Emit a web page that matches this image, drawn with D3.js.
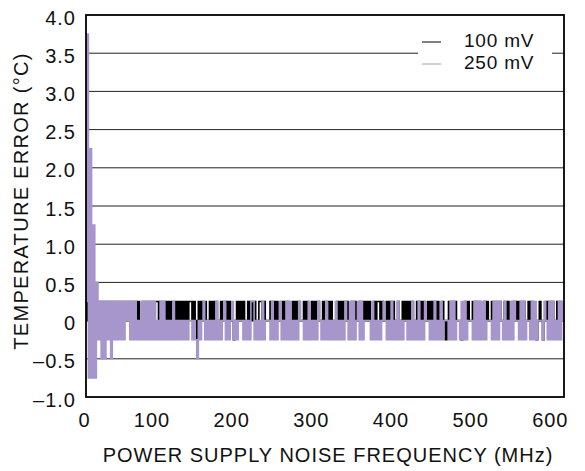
<!DOCTYPE html>
<html>
<head>
<meta charset="utf-8">
<script src="https://cdn.jsdelivr.net/npm/d3@7"></script>
<style>
  body { margin: 0; background: #fff; }
  text { font-family: "Liberation Sans", Arial, Helvetica, sans-serif; fill: #111; }
</style>
</head>
<body>
<div id="vis"></div>
<script>
// tick labels
const yTicks = [-1, -0.5, 0, 0.5, 1, 1.5, 2, 2.5, 3, 3.5, 4];
const xTicks = [0, 100, 200, 300, 400, 500, 600];
const seriesNames = ["100 mV", "250 mV"];

// sampled every 2 MHz, 0..600
const err100mV = [
  0.25,0,0.25,0,0.25,0,0.25,0,0.25,0,
  0.25,0,0.25,0,0.25,0,0.25,0,0.25,0,
  0.25,0,0.25,0.25,0,0.25,0,0.25,0,0.25,
  0,0.25,0,0.25,0,0,0.25,0,0.25,0,
  0.25,0,0.25,0,0.25,0.25,0,0.25,0,0.25,
  0,0.25,0,0.25,0,0.25,0,0.25,0,0.25,
  0,0.25,0,0.25,0,0.25,0.25,0,0.25,0,
  -0.25,0.25,0,0.25,0,0.25,0,0,0.25,0,
  0.25,0,0.25,0,0,0.25,0,0.25,0.25,0,
  0.25,0,0,-0.25,0,0.25,0,0.25,0,0.25,
  0,0,0.25,0,0.25,0,0.25,0,0,0.25,
  0.25,0,0.25,0,0,0,0.25,0,0.25,0,
  0.25,0,0,0.25,0,0.25,0,0.25,0,0,
  0.25,0,0.25,0,0.25,0,0,0.25,0,0.25,
  0,0,0.25,0,0.25,0,0.25,0,0,0.25,
  0,0.25,0.25,0,0.25,0,0,0,0.25,0,
  0.25,0,0.25,0,0.25,0,0,0.25,0,0.25,
  0,0,0.25,0,0.25,0,0.25,0,0.25,0,
  0,0.25,0,0.25,0.25,0,0.25,0,0,0.25,
  0,0.25,0,0.25,0,0,0.25,0,0,0.25,
  0,0.25,0,0.25,0,0.25,0,0,0.25,0,
  0.25,0,0.25,0,0,0.25,0,0.25,0,0.25,
  0,0.25,0,0,0.25,0,-0.25,0,0.25,0,
  0.25,0,0.25,0,0,0,-0.25,0,0.25,0,
  0.25,0,0,0.25,0,0.25,0,0.25,0,0,
  0.25,0,0.25,0,0,0.25,0,0.25,0.25,0,
  0.25,0,0,0.25,0,0.25,0,0,0.25,0,
  0.25,0,0.25,0,0.25,0.25,0,0,0.25,0,
  0.25,0,0,-0.25,0,0.25,0,-0.25,0,0.25,
  0,0.25,0,0.25,0,0,0.25,0,0.25,0,
  0
];

const err250mV = [
  0.25,3.75,-0.75,2.25,-0.75,1.25,-0.75,0.5,-0.25,0.25,
  -0.5,0.25,-0.5,0.25,-0.25,0.25,-0.5,0.25,-0.25,0.25,
  -0.25,0.25,-0.25,0.25,-0.25,0.25,0,0.25,-0.25,0.25,
  -0.25,0.25,-0.25,0,-0.25,0.25,-0.25,0.25,-0.25,0.25,
  -0.25,0.25,-0.25,0.25,-0.25,0,-0.25,0.25,-0.25,0.25,
  -0.25,0,-0.25,0,-0.25,0.25,-0.25,0,-0.25,0,
  -0.25,0,-0.25,0,-0.25,0,0,-0.25,0,-0.25,
  -0.5,0,-0.25,0,0.25,-0.25,0,-0.25,0,-0.25,
  0,-0.25,0.25,-0.25,0,-0.25,0,0.25,-0.25,0,
  -0.25,0,0.25,-0.25,0,-0.25,0,0,0,-0.25,
  0,-0.25,0,-0.25,0.25,0.25,-0.25,0,-0.25,0,
  -0.25,0.25,-0.25,0,0,0,-0.25,0.25,-0.25,0,
  -0.25,0,0.25,-0.25,0,-0.25,0.25,-0.25,0.25,-0.25,
  0,-0.25,0,-0.25,0.25,0,0,-0.25,0,-0.25,
  0.25,-0.25,0,-0.25,0,-0.25,0.25,0,-0.25,0,
  -0.25,0.25,-0.25,0,-0.25,0,-0.25,0.25,-0.25,0,
  -0.25,0,-0.25,0.25,0,-0.25,0.25,-0.25,0.25,-0.25,
  0,0.25,-0.25,0.25,-0.25,0,0,0,0,-0.25,
  0.25,-0.25,0,-0.25,0,-0.25,0,0.25,0,-0.25,
  0,-0.25,0.25,-0.25,0,-0.25,0.25,-0.25,0,-0.25,
  0,0,-0.25,0,-0.25,0.25,-0.25,0,-0.25,0.25,
  -0.25,0,-0.25,0.25,0,0,-0.25,0,-0.25,0.25,
  -0.25,0,-0.25,0.25,-0.25,0,0,0,-0.25,0.25,
  -0.25,0.25,-0.25,0,0,-0.25,0.25,-0.25,0.25,-0.25,
  0,0,0,-0.25,0.25,-0.25,0.25,-0.25,0.25,-0.25,
  0.25,-0.25,0,0,0,-0.25,0.25,-0.25,0.25,-0.25,
  0.25,0,-0.25,0.25,-0.25,0,-0.25,0.25,-0.25,0.25,
  0,0,-0.25,0.25,-0.25,0.25,-0.25,0,0,-0.25,
  0.25,-0.25,0.25,-0.25,0,0,0,-0.25,0.25,0,
  -0.25,0.25,-0.25,0.25,-0.25,0,-0.25,0.25,-0.25,0.25,
  0
];

const freqs = d3.range(0, 601, 2);
const colors = ["#000", "#a696cb"];

const width = 585, height = 471;
const margin = { top: 15, right: 21, bottom: 74, left: 86 };
const innerW = width - margin.left - margin.right;
const innerH = height - margin.top - margin.bottom;

const svg = d3.select("#vis").append("svg")
  .attr("width", width)
  .attr("height", height);

const g = svg.append("g")
  .attr("transform", `translate(${margin.left},${margin.top})`);

const x = d3.scaleLinear().domain([0, 600]).range([0, innerW]);
const y = d3.scaleLinear().domain([-1, 4]).range([innerH, 0]);

const fmtY = d => d === 0 ? "0" : (d < 0 ? "\u2013" + Math.abs(d).toFixed(1) : d.toFixed(1));

// gridlines
g.append("g")
  .selectAll("line")
  .data(yTicks.filter(d => d > -1 && d < 4))
  .enter().append("line")
  .attr("x1", 0).attr("x2", innerW)
  .attr("y1", d => y(d)).attr("y2", d => y(d))
  .attr("stroke", "#222")
  .attr("stroke-width", 1);

// y axis labels
const yAxis = g.append("g")
  .call(d3.axisLeft(y).tickValues(yTicks).tickFormat(fmtY).tickSize(0).tickPadding(10));
yAxis.select(".domain").remove();
yAxis.selectAll("text")
  .attr("dy", "0.45em")
  .style("font-size", "20px")
  .style("letter-spacing", "1px")
  .attr("fill", "#111");

// x axis labels sit right-aligned under each tick
const xAxis = g.append("g")
  .attr("transform", `translate(0,${innerH})`)
  .call(d3.axisBottom(x).tickValues(xTicks).tickFormat(d3.format("d")).tickSize(0).tickPadding(16));
xAxis.select(".domain").remove();
xAxis.selectAll("text")
  .attr("text-anchor", "end")
  .attr("dx", 4)
  .style("font-size", "20px")
  .style("letter-spacing", "1px")
  .attr("fill", "#111");

// data lines
const line = d3.line()
  .x((d, i) => x(freqs[i]))
  .y(d => y(d))
  .curve(d3.curveStep);

[err100mV, err250mV].forEach((series, i) => {
  g.append("path")
    .datum(series)
    .attr("d", line)
    .attr("fill", "none")
    .attr("stroke", colors[i])
    .attr("stroke-width", 1.6);
});

// legend
const legend = g.append("g")
  .attr("transform", `translate(${innerW - 146},14)`);
legend.append("rect")
  .attr("x", 0).attr("y", 0)
  .attr("width", 134).attr("height", 44)
  .attr("fill", "#fff");
seriesNames.forEach((name, i) => {
  legend.append("line")
    .attr("x1", 4).attr("x2", 23)
    .attr("y1", 13 + i * 22).attr("y2", 13 + i * 22)
    .attr("stroke", colors[i])
    .attr("stroke-width", 1);
  legend.append("text")
    .attr("x", 46)
    .attr("y", 18 + i * 22)
    .style("font-size", "19px")
    .style("letter-spacing", "0.8px")
    .text(name);
});

// frame
g.append("rect")
  .attr("width", innerW)
  .attr("height", innerH)
  .attr("fill", "none")
  .attr("stroke", "#000")
  .attr("stroke-width", 1.8);

// axis titles
svg.append("text")
  .attr("x", 328)
  .attr("y", 462)
  .attr("text-anchor", "middle")
  .style("font-size", "20px")
  .style("letter-spacing", "1px")
  .text("POWER SUPPLY NOISE FREQUENCY (MHz)");

svg.append("text")
  .attr("transform", "translate(28,201) rotate(-90)")
  .attr("text-anchor", "middle")
  .style("font-size", "20px")
  .style("letter-spacing", "1.3px")
  .text("TEMPERATURE ERROR (\u00B0C)");
</script>
</body>
</html>
